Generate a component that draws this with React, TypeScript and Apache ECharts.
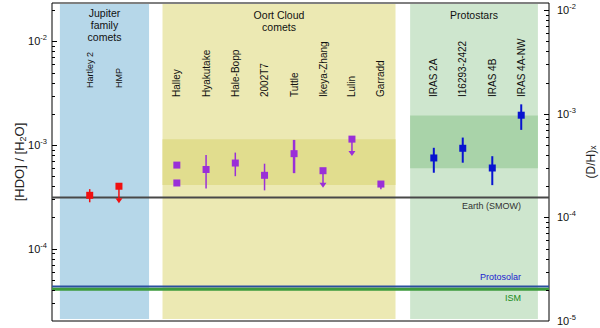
import React, { useEffect, useRef } from 'react';
import * as echarts from 'echarts';

// ---- data ----
const groupNames = ['Jupiter\nfamily\ncomets', 'Oort Cloud\ncomets', 'Protostars'];
const groupStart = [0.27, 3.78, 12.25];
const groupEnd = [3.32, 11.75, 16.62];
const groupRangeLow: (number | null)[] = [null, 4.12e-4, 5.97e-4];
const groupRangeHigh: (number | null)[] = [null, 1.135e-3, 1.93e-3];

const objectNames = ['Hartley 2', 'HMP', 'Halley', 'Hyakutake', 'Hale-Bopp', '2002T7', 'Tuttle', 'Ikeya-Zhang', 'Lulin', 'Garradd', 'IRAS 2A', 'I16293-2422', 'IRAS 4B', 'IRAS 4A-NW'];
const objectGroup = [0, 0, 1, 1, 1, 1, 1, 1, 1, 1, 2, 2, 2, 2];
const objectX = [1.29, 2.29, 4.27, 5.27, 6.27, 7.27, 8.28, 9.27, 10.26, 11.25, 13.06, 14.05, 15.06, 16.05];
const hdoValue = [3.27e-4, 4.0e-4, 6.4e-4, 5.8e-4, 6.7e-4, 5.1e-4, 8.25e-4, 5.65e-4, 1.14e-3, 4.2e-4, 7.5e-4, 9.3e-4, 6.0e-4, 1.94e-3];
const hdoLow: (number | null)[] = [2.8e-4, null, null, 3.8e-4, 5.0e-4, 3.65e-4, 5.35e-4, null, null, 3.75e-4, 5.4e-4, 6.75e-4, 4.1e-4, 1.40e-3];
const hdoHigh: (number | null)[] = [3.75e-4, null, null, 8.0e-4, 8.45e-4, 6.6e-4, 1.12e-3, null, null, 4.5e-4, 9.4e-4, 1.18e-3, 7.8e-4, 2.47e-3];
const upperLimit = [false, true, false, false, false, false, false, true, true, false, false, false, false, false];
// second Halley measurement
const extraObject = [2];
const extraValue = [4.3e-4];

const refNames = ['Earth (SMOW)', 'Protosolar', 'ISM'];
const refValues = [3.12e-4, 4.3e-5, 4.05e-5];

const leftMin = 2e-5;
const leftMax = 2.35e-2;
const rightMin = leftMin / 2;
const rightMax = leftMax / 2;

// ---- styles ----
const FONT = 'Liberation Sans, Arial, Helvetica, sans-serif';
const bandColors = ['#b6d7e9', '#ece9b3', '#cee6ce'];
const bandDark = ['', '#e1dd8e', '#a9d3a9'];
const markerColors = ['#f01010', '#9a2fd8', '#0814d0'];
const errWidth = [1.5, 1.5, 2];
const refColors = ['#484848', '#2a4f9f', '#3c9a3c'];
const refWidths = [2, 2, 3];
const refLabelColors = ['#333333', '#1a1ad0', '#188c18'];
const refLabelAbove = [false, true, false];

function logTicks(min: number, max: number) {
  const out: number[][] = [];
  for (let e = -7; e <= 1; e++) {
    for (let m = 1; m < 10; m++) {
      const v = m * Math.pow(10, e);
      if (v > min * 1.0001 && v < max * 0.9999) out.push([0, v, m === 1 ? 1 : 0]);
    }
  }
  return out;
}

function powLabel(v: number) {
  const e = Math.log10(v);
  const r = Math.round(e);
  if (Math.abs(e - r) > 1e-6) return '';
  return `{b|10}{s|${r}}`;
}

const labelRich = {
  b: { fontSize: 11, lineHeight: 15, color: '#111', fontFamily: FONT },
  s: { fontSize: 7.5, lineHeight: 8, verticalAlign: 'top', color: '#111', fontFamily: FONT },
};

export default function App() {
  const ref = useRef<HTMLDivElement>(null);
  useEffect(() => {
    document.body.style.margin = '0';
    if (!ref.current) return;
    const chart = echarts.init(ref.current, null, { renderer: 'svg' });

    const groupSeriesData = (g: number) => {
      const d: number[][] = [];
      objectX.forEach((x, i) => {
        if (objectGroup[i] === g) d.push([x, hdoValue[i]]);
      });
      extraObject.forEach((oi, k) => {
        if (objectGroup[oi] === g) d.push([objectX[oi], extraValue[k]]);
      });
      return d;
    };

    const option: any = {
      animation: false,
      grid: {
        left: 52, right: 51, top: 3, bottom: 7, show: true, borderColor: '#000', borderWidth: 1,
        backgroundColor: 'transparent', containLabel: false, outerBoundsMode: 'none',
      },
      xAxis: {
        type: 'value', min: 0, max: 17,
        axisLine: { show: false }, axisTick: { show: false }, axisLabel: { show: false }, splitLine: { show: false },
      },
      yAxis: [
        {
          type: 'log', min: leftMin, max: leftMax, position: 'left',
          axisLine: { show: false }, axisTick: { show: false }, splitLine: { show: false }, minorTick: { show: false },
          axisLabel: { formatter: powLabel, rich: labelRich, margin: 5 },
          name: '{a|[HDO] / [H}{u|2}{a|O]}',
          nameLocation: 'middle', nameGap: 25, nameRotate: 90, nameMoveOverlap: false,
          nameTextStyle: {
            rich: {
              a: { fontSize: 13, fontFamily: FONT, color: '#222', lineHeight: 15 },
              u: { fontSize: 9, fontFamily: FONT, color: '#222', verticalAlign: 'bottom', lineHeight: 11 },
            },
          },
        },
        {
          type: 'log', min: rightMin, max: rightMax, position: 'right',
          axisLine: { show: false }, axisTick: { show: false }, splitLine: { show: false }, minorTick: { show: false },
          axisLabel: { formatter: powLabel, rich: labelRich, margin: 8 },
          name: '{a|(D/H)}{u|x}',
          nameLocation: 'middle', nameGap: 35, nameRotate: 90, nameMoveOverlap: false,
          nameTextStyle: {
            rich: {
              a: { fontSize: 12, fontFamily: FONT, color: '#222', lineHeight: 13 },
              u: { fontSize: 8.5, fontFamily: FONT, color: '#222', verticalAlign: 'bottom', lineHeight: 10 },
            },
          },
        },
      ],
      series: [
        {
          type: 'custom', name: 'groups', z: 1, silent: true,
          data: groupStart.map((s, i) => [s, groupEnd[i]]),
          encode: { x: [0, 1] },
          renderItem: (params: any, api: any) => {
            const cs = params.coordSys;
            const i = params.dataIndex;
            const x0 = api.coord([api.value(0), 1e-3])[0];
            const x1 = api.coord([api.value(1), 1e-3])[0];
            const children: any[] = [
              { type: 'rect', shape: { x: x0, y: cs.y + 1, width: x1 - x0, height: cs.height - 3 }, style: { fill: bandColors[i] } },
            ];
            const lo = groupRangeLow[i];
            const hi = groupRangeHigh[i];
            if (lo != null && hi != null) {
              const yl = api.coord([api.value(0), lo])[1];
              const yh = api.coord([api.value(0), hi])[1];
              children.push({ type: 'rect', shape: { x: x0, y: yh, width: x1 - x0, height: yl - yh }, style: { fill: bandDark[i] } });
            }
            children.push({
              type: 'text', x: (x0 + x1) / 2, y: cs.y + (i === 0 ? 4 : 6),
              style: { text: groupNames[i], fontSize: 10.5, lineHeight: 12, fontFamily: FONT, fill: '#111', align: 'center', verticalAlign: 'top' },
            });
            return { type: 'group', children };
          },
        },
        {
          type: 'custom', name: 'refLines', z: 3, silent: true,
          data: refValues.map((v) => [0, v]),
          encode: { x: 0, y: 1 },
          renderItem: (params: any, api: any) => {
            const cs = params.coordSys;
            const i = params.dataIndex;
            const y = api.coord([0, api.value(1)])[1];
            return {
              type: 'group',
              children: [
                { type: 'line', shape: { x1: cs.x, y1: y, x2: cs.x + cs.width, y2: y }, style: { stroke: refColors[i], lineWidth: refWidths[i] } },
                {
                  type: 'text', x: cs.x + cs.width - 28, y: y + (refLabelAbove[i] ? -10 : 9),
                  style: { text: refNames[i], fontSize: 9, fontFamily: FONT, fill: refLabelColors[i], align: 'right', verticalAlign: 'middle' },
                },
              ],
            };
          },
        },
        {
          type: 'custom', name: 'objects', z: 4, silent: true,
          data: objectX.map((x, i) => [x, hdoValue[i], hdoLow[i] ?? hdoValue[i], hdoHigh[i] ?? hdoValue[i]]),
          encode: { x: 0, y: 1 },
          renderItem: (params: any, api: any) => {
            const cs = params.coordSys;
            const i = params.dataIndex;
            const g = objectGroup[i];
            const color = markerColors[g];
            const p = api.coord([api.value(0), api.value(1)]);
            const children: any[] = [];
            if (api.value(2) !== api.value(3)) {
              const lo = api.coord([api.value(0), api.value(2)]);
              const hi = api.coord([api.value(0), api.value(3)]);
              children.push({ type: 'line', shape: { x1: p[0], y1: hi[1], x2: p[0], y2: lo[1] }, style: { stroke: color, lineWidth: i === 6 ? 2.5 : errWidth[g] } });
            }
            if (upperLimit[i]) {
              const tip = p[1] + 17;
              children.push({ type: 'line', shape: { x1: p[0], y1: p[1], x2: p[0], y2: tip - 4 }, style: { stroke: color, lineWidth: 1.5 } });
              children.push({ type: 'polygon', shape: { points: [[p[0] - 3.5, tip - 5], [p[0] + 3.5, tip - 5], [p[0], tip]] }, style: { fill: color } });
            }
            children.push({
              type: 'text', x: p[0], y: cs.y + (g === 0 ? 85 : 94), rotation: Math.PI / 2,
              style: { text: objectNames[i], fontSize: g === 0 ? 9 : 10, fontFamily: FONT, fill: '#111', align: 'left', verticalAlign: 'middle' },
            });
            return { type: 'group', children };
          },
        },
        ...[0, 1, 2].map((g) => ({
          type: 'scatter', z: 5, silent: true,
          symbol: 'rect', symbolSize: 7,
          itemStyle: { color: markerColors[g], opacity: 1 },
          data: groupSeriesData(g),
        })),
        {
          type: 'custom', name: 'leftTicks', z: 10, silent: true, yAxisIndex: 0,
          data: logTicks(leftMin, leftMax),
          encode: { x: 0, y: 1 },
          renderItem: (params: any, api: any) => {
            const cs = params.coordSys;
            const y = Math.round(api.coord([0, api.value(1)])[1]) + 0.5;
            const len = api.value(2) ? 5 : 3;
            return { type: 'line', shape: { x1: cs.x, y1: y, x2: cs.x + len, y2: y }, style: { stroke: '#000', lineWidth: 1 } };
          },
        },
        {
          type: 'custom', name: 'rightTicks', z: 10, silent: true, yAxisIndex: 1,
          data: logTicks(rightMin, rightMax),
          encode: { x: 0, y: 1 },
          renderItem: (params: any, api: any) => {
            const cs = params.coordSys;
            const y = Math.round(api.coord([0, api.value(1)])[1]) + 0.5;
            const len = api.value(2) ? 5 : 3;
            const xr = cs.x + cs.width;
            return { type: 'line', shape: { x1: xr, y1: y, x2: xr - len, y2: y }, style: { stroke: '#000', lineWidth: 1 } };
          },
        },
      ],
    };
    chart.setOption(option);
    return () => chart.dispose();
  }, []);
  return <div ref={ref} style={{ width: 600, height: 328 }} />;
}
